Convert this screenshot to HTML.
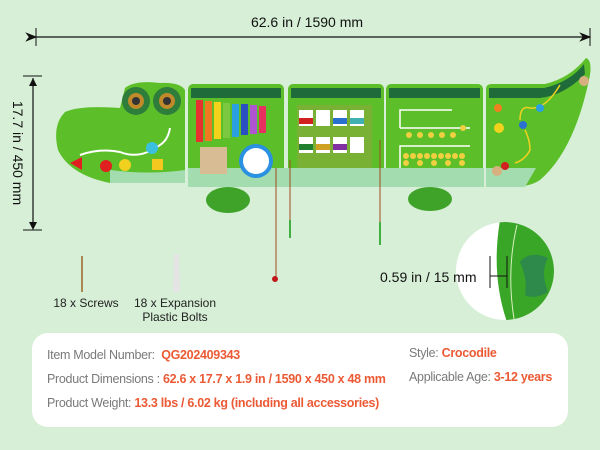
<!DOCTYPE html>
<html><head><meta charset="utf-8"><style>
html,body{margin:0;padding:0;background:#d6efd6;}
body{width:600px;height:450px;overflow:hidden;position:relative;font-family:"Liberation Sans",sans-serif;}
svg{position:absolute;left:0;top:0}
.box{position:absolute;left:32px;top:333px;width:536px;height:94px;background:#fff;border-radius:16px;}
.t{position:absolute;font-size:12.5px;color:#7a7a7a;white-space:nowrap;letter-spacing:-0.3px}
.t b{color:#ec5a35;font-weight:bold}
</style></head><body>
<svg width="600" height="450" viewBox="0 0 600 450">
<defs><marker id="a" markerWidth="10" markerHeight="8" refX="9" refY="4" orient="auto"><path d="M0,0 L10,4 L0,8 L3,4z" fill="#111"/></marker></defs>
<!-- dimension lines -->
<line x1="36" y1="37" x2="590" y2="37" stroke="#111" stroke-width="1.2" marker-end="url(#a)" marker-start="url(#a)"/>
<line x1="36" y1="28" x2="36" y2="46" stroke="#111"/><line x1="590" y1="28" x2="590" y2="46" stroke="#111"/>
<text x="307" y="27" font-size="14" text-anchor="middle" font-family="Liberation Sans" fill="#111">62.6 in / 1590 mm</text>
<line x1="33" y1="78" x2="33" y2="228" stroke="#111" stroke-width="1.2"/>
<line x1="23" y1="76" x2="42" y2="76" stroke="#111"/><line x1="23" y1="230" x2="42" y2="230" stroke="#111"/>
<path d="M29,86 L33,78 L37,86z M29,222 L33,230 L37,222z" fill="#111"/>
<text transform="translate(13,153) rotate(90)" font-size="14" text-anchor="middle" font-family="Liberation Sans" fill="#111">17.7 in / 450 mm</text>
<!-- legs -->
<ellipse cx="228" cy="200" rx="22" ry="13" fill="#3fa32a"/>
<ellipse cx="430" cy="199" rx="22" ry="12" fill="#3fa32a"/>
<!-- head -->
<path d="M185,90 L185,183 L110,183 Q70,175 58,150 Q52,125 65,112 Q80,105 120,108 L125,88 Q135,80 160,83 Q180,82 185,90z" fill="#5cbf2a"/>
<circle cx="136" cy="101" r="14" fill="#2f7d3a"/><circle cx="167" cy="101" r="14" fill="#2f7d3a"/>
<circle cx="136" cy="101" r="8" fill="#c08a2a"/><circle cx="167" cy="101" r="8" fill="#c08a2a"/>
<circle cx="136" cy="101" r="4" fill="#333"/><circle cx="167" cy="101" r="4" fill="#333"/>
<path d="M80,155 Q100,148 120,152 Q140,160 160,145 Q168,140 170,128" stroke="#fff" stroke-width="2" fill="none"/>
<path d="M70,163 L82,157 L82,170z" fill="#e02020"/><circle cx="106" cy="166" r="6" fill="#e02020"/><circle cx="125" cy="165" r="6" fill="#f1d020"/><circle cx="152" cy="148" r="6" fill="#3cc0e0"/><rect x="152" y="159" width="11" height="11" fill="#f5c820"/>
<path d="M110,170 Q150,175 185,170 L185,183 L110,183z" fill="#a3dcae"/>
<!-- panels -->
<g>
<rect x="188" y="84" width="96" height="103" rx="5" fill="#5cbf2a"/>
<rect x="288" y="84" width="96" height="103" rx="5" fill="#5cbf2a"/>
<rect x="386" y="84" width="97" height="103" rx="5" fill="#5cbf2a"/>
<path d="M486,89 Q486,84 492,84 L545,84 Q570,78 586,58 Q592,60 590,75 Q575,150 540,180 Q530,187 510,187 L486,187z" fill="#5cbf2a"/>
<path d="M191,88 h90 v10 h-90z M291,88 h90 v10 h-90z M389,88 h91 v10 h-91z" fill="#1f6b3a"/>
<path d="M489,88 h55 Q570,82 584,64 L585,74 Q565,95 540,98 h-51z" fill="#1f6b3a"/>
<path d="M188,168 h296 v19 h-296z" fill="#a3dcae"/><path d="M486,168 h50 L525,187 h-39z" fill="#a3dcae"/>
</g>
<!-- xylophone -->
<g><rect x="196" y="100" width="7" height="42" fill="#e83030"/><rect x="205" y="101" width="7" height="40" fill="#f07a20"/><rect x="214" y="102" width="7" height="37" fill="#f3d21c"/><rect x="223" y="103" width="7" height="35" fill="#7cc840"/><rect x="232" y="104" width="7" height="33" fill="#2aa0e0"/><rect x="241" y="104" width="7" height="31" fill="#2a4fc0"/><rect x="250" y="105" width="7" height="29" fill="#b055d0"/><rect x="259" y="106" width="7" height="27" fill="#e83060"/></g>
<rect x="200" y="147" width="27" height="27" fill="#d8bc94"/>
<circle cx="256" cy="161" r="17" fill="#2a90e0"/><circle cx="256" cy="161" r="13" fill="#fff"/>
<!-- jars -->
<rect x="297" y="105" width="75" height="63" fill="#8aa83a" opacity=".6"/>
<g fill="#fff"><rect x="299" y="110" width="14" height="16"/><rect x="316" y="110" width="14" height="16"/><rect x="333" y="110" width="14" height="16"/><rect x="350" y="110" width="14" height="16"/><rect x="299" y="137" width="14" height="16"/><rect x="316" y="137" width="14" height="16"/><rect x="333" y="137" width="14" height="16"/><rect x="350" y="137" width="14" height="16"/></g>
<g><rect x="299" y="118" width="14" height="6" fill="#d02020"/><rect x="333" y="118" width="14" height="6" fill="#2a70d0"/><rect x="350" y="118" width="14" height="6" fill="#40b0b0"/><rect x="299" y="144" width="14" height="6" fill="#208030"/><rect x="316" y="144" width="14" height="6" fill="#d0a020"/><rect x="333" y="144" width="14" height="6" fill="#8030a0"/></g>
<!-- abacus -->
<path d="M400,128 V110 H452 M400,128 H470 M400,168 V146 H470" stroke="#fff" stroke-width="1.5" fill="none"/>
<g fill="#f0d040"><circle cx="406" cy="156" r="3"/><circle cx="413" cy="156" r="3"/><circle cx="420" cy="156" r="3"/><circle cx="427" cy="156" r="3"/><circle cx="434" cy="156" r="3"/><circle cx="441" cy="156" r="3"/><circle cx="448" cy="156" r="3"/><circle cx="455" cy="156" r="3"/><circle cx="462" cy="156" r="3"/><circle cx="406" cy="163" r="3"/><circle cx="420" cy="163" r="3"/><circle cx="434" cy="163" r="3"/><circle cx="448" cy="163" r="3"/><circle cx="462" cy="163" r="3"/><circle cx="409" cy="135" r="3"/><circle cx="420" cy="135" r="3"/><circle cx="431" cy="135" r="3"/><circle cx="442" cy="135" r="3"/><circle cx="453" cy="135" r="3"/><circle cx="463" cy="128" r="3"/></g>
<path d="M520,120 Q520,105 530,108 Q545,110 560,85 M525,130 Q530,140 530,150 Q525,160 515,163" stroke="#f0d020" stroke-width="1.5" fill="none"/>
<circle cx="499" cy="128" r="5" fill="#f3d21c"/><circle cx="498" cy="108" r="4" fill="#f08020"/>
<circle cx="523" cy="125" r="4" fill="#2a70d0"/><circle cx="540" cy="108" r="4" fill="#2aa0e0"/><circle cx="505" cy="166" r="4" fill="#d02020"/><circle cx="497" cy="171" r="5" fill="#d8b080"/><circle cx="584" cy="81" r="5" fill="#d8b080"/>
<!-- strings -->
<line x1="276" y1="168" x2="276" y2="280" stroke="#a04a20" stroke-width="1"/><circle cx="275" cy="279" r="3" fill="#c01818"/>
<line x1="290" y1="160" x2="290" y2="236" stroke="#a04a20" stroke-width="1"/><line x1="290" y1="220" x2="290" y2="238" stroke="#40b040" stroke-width="2"/>
<line x1="380" y1="140" x2="380" y2="240" stroke="#a04a20" stroke-width="1"/><line x1="380" y1="222" x2="380" y2="245" stroke="#40b040" stroke-width="2"/>
<!-- screws -->
<line x1="82" y1="256" x2="82" y2="292" stroke="#a88850" stroke-width="2"/>
<path d="M174,254 L179,254 L180,292 L173,292z" fill="#e4e4e4"/>
<text x="86" y="307" font-size="12" text-anchor="middle" font-family="Liberation Sans" fill="#222">18 x Screws</text>
<text x="175" y="307" font-size="12" text-anchor="middle" font-family="Liberation Sans" fill="#222">18 x Expansion</text>
<text x="175" y="321" font-size="12" text-anchor="middle" font-family="Liberation Sans" fill="#222">Plastic Bolts</text>
<!-- inset -->
<clipPath id="c"><circle cx="505" cy="271" r="49"/></clipPath>
<circle cx="505" cy="271" r="49" fill="#fff"/>
<g clip-path="url(#c)"><path d="M500,220 Q535,225 560,240 L560,330 L510,330 Q490,280 500,220z" fill="#3aa628"/>
<path d="M517,225 Q505,275 516,330" stroke="#d8f0c0" stroke-width="1" fill="none"/>
<path d="M520,262 Q530,250 548,258 Q540,272 548,292 Q535,300 525,295 Q528,280 520,262z" fill="#2d8a4a"/></g>
<line x1="490" y1="256" x2="490" y2="288" stroke="#111"/><line x1="507" y1="256" x2="507" y2="288" stroke="#111"/><line x1="490" y1="276" x2="507" y2="276" stroke="#111"/>
<text x="380" y="282" font-size="14" font-family="Liberation Sans" fill="#111">0.59 in / 15 mm</text>
</svg>
<div class="box"></div>
<div class="t" style="left:47px;top:348px">Item Model Number: &nbsp;<b>QG202409343</b></div>
<div class="t" style="left:47px;top:372px">Product Dimensions : <b>62.6 x 17.7 x 1.9 in / 1590 x 450 x 48 mm</b></div>
<div class="t" style="left:47px;top:396px">Product Weight: <b>13.3 lbs / 6.02 kg (including all accessories)</b></div>
<div class="t" style="left:409px;top:346px">Style: <b>Crocodile</b></div>
<div class="t" style="left:409px;top:370px">Applicable Age: <b>3-12 years</b></div>
</body></html>
